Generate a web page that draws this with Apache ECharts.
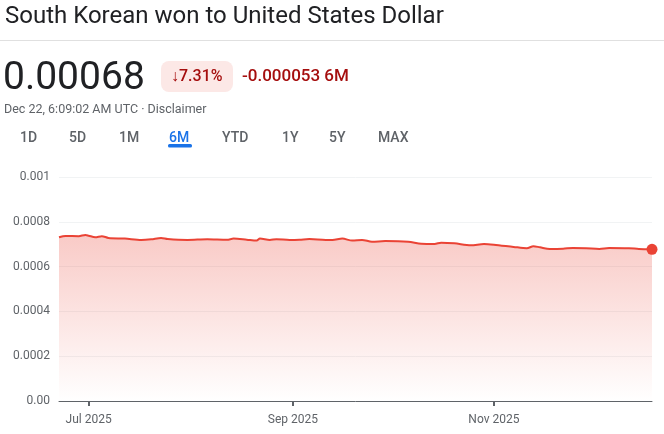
<!DOCTYPE html>
<html><head><meta charset="utf-8">
<script src="https://cdn.jsdelivr.net/npm/echarts@6/dist/echarts.min.js"></script>
<style>html,body{margin:0;padding:0;background:#fff}#c{width:664px;height:434px}</style>
</head><body><div id="c"></div>
<script>
const dates = ['2025-06-22','2025-06-24','2025-06-28','2025-06-30','2025-07-01','2025-07-03','2025-07-05','2025-07-07','2025-07-12','2025-07-17','2025-07-20','2025-07-23','2025-07-25','2025-07-31','2025-08-06','2025-08-12','2025-08-14','2025-08-18','2025-08-21','2025-08-22','2025-08-25','2025-08-27','2025-08-31','2025-09-03','2025-09-06','2025-09-11','2025-09-13','2025-09-16','2025-09-19','2025-09-22','2025-09-25','2025-09-29','2025-10-06','2025-10-10','2025-10-14','2025-10-16','2025-10-20','2025-10-25','2025-10-29','2025-11-01','2025-11-07','2025-11-11','2025-11-13','2025-11-15','2025-11-18','2025-11-22','2025-11-25','2025-11-29','2025-12-03','2025-12-06','2025-12-12','2025-12-15','2025-12-19'];
const rates = [0.000731,0.000737,0.000736,0.000741,0.000738,0.000731,0.000736,0.000728,0.000725,0.000719,0.000722,0.000728,0.000723,0.000719,0.000722,0.000720,0.000725,0.000720,0.000716,0.000725,0.000719,0.000722,0.000719,0.000720,0.000723,0.000719,0.000719,0.000725,0.000716,0.000719,0.000711,0.000714,0.000711,0.000702,0.000701,0.000707,0.000704,0.000695,0.000701,0.000698,0.000688,0.000682,0.000691,0.000686,0.000679,0.000680,0.000683,0.000682,0.000679,0.000683,0.000682,0.000679,0.000677];
const yTicks = [0, 0.0002, 0.0004, 0.0006, 0.0008, 0.001];
const xTickDates = ['2025-07-01','2025-09-01','2025-11-01'];
const xTickLabels = ['Jul 2025','Sep 2025','Nov 2025'];

const ts = d => Date.UTC(+d.slice(0,4), +d.slice(5,7)-1, +d.slice(8,10));
const chart = echarts.init(document.getElementById('c'));
const FONT = 'Roboto, "Noto Sans", Arial, sans-serif';
const data = dates.map((d,i)=>[ts(d), rates[i]]);
const xTickVals = xTickDates.map(ts);
const tabs = ['1D','5D','1M','6M','YTD','1Y','5Y','MAX'];
const tabX = [20,69,119,169,222,282,329,378];
const graphics = [
  {type:'text', left:5, top:5, style:{text:'South Korean won to United States Dollar', font:'400 24px '+FONT, fill:'#202124'}},
  {type:'line', shape:{x1:0,y1:40.5,x2:664,y2:40.5}, style:{stroke:'#e0e0e0', lineWidth:1}},
  {type:'text', left:3, top:60, style:{text:'0.00068', font:'400 39px '+FONT, fill:'#202124'}},
  {type:'rect', shape:{x:161,y:61,width:72,height:31,r:8}, style:{fill:'#fce8e6'}},
  {type:'text', left:171, top:69, style:{text:'↓7.31%', font:'500 16px '+FONT, fill:'#a50e0e'}},
  {type:'text', left:242, top:68, style:{text:'-0.000053 6M', font:'500 17px '+FONT, fill:'#a50e0e'}},
  {type:'text', left:4, top:103, style:{text:'Dec 22, 6:09:02 AM UTC · Disclaimer', font:'400 12.5px '+FONT, fill:'#5f6368'}},
  {type:'rect', shape:{x:168,y:144,width:24,height:3.5,r:1.5}, style:{fill:'#1a73e8'}}
];
tabs.forEach((t,i)=>graphics.push({type:'text', left:tabX[i], top:131, style:{text:t, font:'500 14px '+FONT, fill: t==='6M' ? '#1a73e8' : '#5f6368'}}));

chart.setOption({
  animation:false,
  backgroundColor:'#fff',
  textStyle:{fontFamily:FONT},
  graphic: graphics,
  grid:{left:59, right:12, top:177, bottom:33, containLabel:false},
  xAxis:{
    type:'value',
    min:ts('2025-06-22'), max:ts('2025-12-19'),
    axisLine:{show:true, onZero:false, lineStyle:{color:'#5f6368', width:1}},
    axisTick:{show:true, customValues:xTickVals, length:5, lineStyle:{color:'#5f6368', width:2}},
    axisLabel:{customValues:xTickVals, color:'#5f6368', fontSize:12, margin:13,
      formatter:(v)=>xTickLabels[xTickVals.indexOf(v)] || ''},
    splitLine:{show:false}
  },
  yAxis:{
    type:'value', min:0, max:0.001, interval:0.0002,
    axisLine:{show:false}, axisTick:{show:false},
    axisLabel:{color:'#5f6368', fontSize:12, margin:9,
      formatter:(v)=> v===0 ? '0.00' : String(+v.toFixed(4))},
    splitLine:{lineStyle:{color:'#f1f3f4', width:1}}
  },
  series:[{
    type:'line', data:data, showSymbol:false, smooth:0.3,
    lineStyle:{color:'#ea4335', width:2},
    areaStyle:{color:new echarts.graphic.LinearGradient(0,0,0,1,[
      {offset:0,color:'rgba(234,67,53,0.4)'},{offset:1,color:'rgba(234,67,53,0)'}])},
    markPoint:{symbol:'circle', symbolSize:11, label:{show:false}, itemStyle:{color:'#ea4335'},
      data:[{coord:data[data.length-1]}]},
    z:3
  }]
});
</script></body></html>
